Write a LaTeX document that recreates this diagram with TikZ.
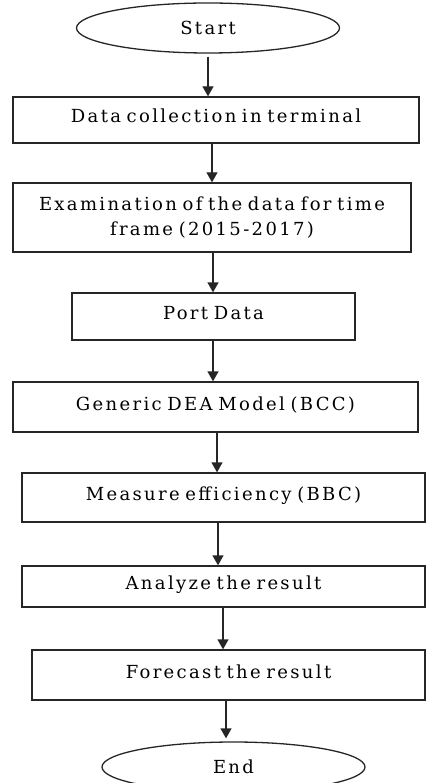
\documentclass[tikz,border=0pt]{standalone}
\usepackage{fontspec}
\setmainfont{DejaVu Serif}[LetterSpace=13,WordSpace=0.7]
\usetikzlibrary{shapes.geometric,arrows.meta}
\begin{document}
\begin{tikzpicture}[x=1pt,y=-1pt,
  font=\fontsize{18}{25}\selectfont,
  ink/.style={draw=black!85,line width=1.3pt},
  term/.style={ink,ellipse,inner sep=0pt,minimum width=263pt,minimum height=50pt},
  stepbox/.style={ink,rectangle,inner sep=0pt,text height=14pt,text depth=8pt},
  arr/.style={draw=black!85,line width=1.3pt,-{Triangle[width=11pt,length=10pt]}}]
\useasboundingbox (0,0) rectangle (426,783);

\node[term] (start) at (208,28) {Start};
\node[stepbox,minimum width=406pt,minimum height=46pt] (b1) at (216,120) {Data collection in terminal};
\node[ink,rectangle,inner sep=0pt,align=center,minimum width=398pt,minimum height=69pt] (b2) at (212,217.5)
  {Examination of the data for time\\frame (2015-2017)};
\node[stepbox,minimum width=283pt,minimum height=47pt] (b3) at (213.5,316.5) {Port Data};
\node[stepbox,minimum width=405pt,minimum height=50pt] (b4) at (215.5,407) {Generic DEA Model (BCC)};
\node[stepbox,minimum width=403pt,minimum height=49pt] (b5) at (223.5,497.5) {Measure efficiency (BBC)};
\node[stepbox,minimum width=403pt,minimum height=41pt] (b6) at (223.5,586.5) {Analyze the result};
\node[stepbox,minimum width=393pt,minimum height=50pt] (b7) at (228.5,675) {Forecast the result};
\node[term] (end) at (233.5,767) {End};

\draw[arr,shorten <=3pt] (start.south) -- (start.south |- b1.north);
\draw[arr] ([xshift=-4]b1.south) -- ([xshift=-4]b1.south |- b2.north);
\draw[arr] ([xshift=1]b2.south) -- ([xshift=1]b2.south |- b3.north);
\draw[arr] ([xshift=-0.5]b3.south) -- ([xshift=-0.5]b3.south |- b4.north);
\draw[arr] ([xshift=1.5]b4.south) -- ([xshift=1.5]b4.south |- b5.north);
\draw[arr] ([xshift=-5.5]b5.south) -- ([xshift=-5.5]b5.south |- b6.north);
\draw[arr] ([xshift=-0.5]b6.south) -- ([xshift=-0.5]b6.south |- b7.north);
\draw[arr,shorten >=3pt] ([xshift=-2.5]b7.south) -- ([xshift=-2.5]b7.south |- end.north);
\end{tikzpicture}
\end{document}
